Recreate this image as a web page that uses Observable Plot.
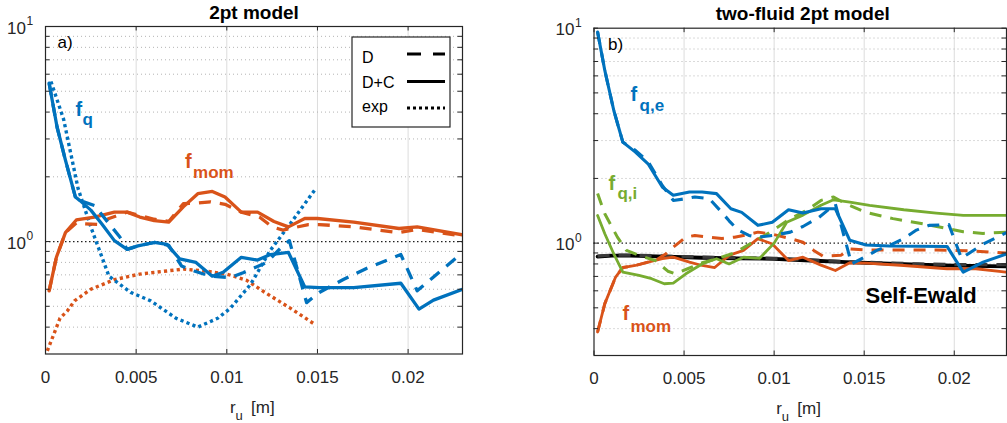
<!DOCTYPE html>
<html>
<head>
<meta charset="utf-8">
<script src="https://cdn.jsdelivr.net/npm/d3@7"></script>
<script src="https://cdn.jsdelivr.net/npm/@observablehq/plot@0.6"></script>
<style>
  html, body { margin: 0; padding: 0; background: #fff; }
  #fig { position: relative; width: 1007px; height: 423px; overflow: hidden;
         font-family: "Liberation Sans", Arial, Helvetica, sans-serif; }
  .panel { position: absolute; top: 0; }
  .panel svg { overflow: visible; }
</style>
</head>
<body>
<div id="fig"></div>
<script>
// MATLAB-style default colours
const BLUE = "#0072BD", ORANGE = "#D95319", GREEN = "#77AC30", BLACK = "#000000";
const FONT = "Liberation Sans, Arial, Helvetica, sans-serif";

// axis ticks
const xTicks = [0, 0.005, 0.01, 0.015, 0.02];
const yMajor = [1, 10];
const yMinor = [0.4, 0.5, 0.6, 0.7, 0.8, 0.9, 2, 3, 4, 5, 6, 7, 8, 9];

// ---- panel a) 2pt model ----
// f_q, D+C
const a_fq_DC_r = [0.0002, 0.00064, 0.0011, 0.00165, 0.0019, 0.0025, 0.0031, 0.0038, 0.0045, 0.0051, 0.006, 0.0067, 0.0074, 0.0083, 0.0092, 0.0098, 0.0108, 0.0117, 0.0124, 0.0134, 0.0143, 0.0151, 0.017, 0.0196, 0.0206, 0.0214, 0.023];
const a_fq_DC_v = [5.45, 3.4, 2.39, 1.61, 1.55, 1.40, 1.21, 1.01, 0.92, 0.955, 0.99, 0.97, 0.83, 0.80, 0.69, 0.72, 0.845, 0.82, 0.87, 0.89, 0.615, 0.61, 0.61, 0.64, 0.485, 0.534, 0.60];
// f_q, D
const a_fq_D_r = [0.0002, 0.00064, 0.0011, 0.00165, 0.0019, 0.0027, 0.0041, 0.0045, 0.0051, 0.006, 0.0068, 0.0075, 0.0082, 0.0091, 0.0102, 0.0109, 0.0122, 0.0131, 0.01345, 0.0144, 0.0151, 0.0164, 0.0177, 0.019, 0.0196, 0.0205, 0.023];
const a_fq_D_v = [5.45, 3.4, 2.39, 1.61, 1.55, 1.47, 1.05, 0.92, 0.955, 0.99, 0.96, 0.77, 0.73, 0.69, 0.68, 0.716, 0.80, 0.957, 1.01, 0.52, 0.58, 0.664, 0.75, 0.83, 0.87, 0.59, 0.89];
// f_q, exp
const a_fq_exp_r = [0.0003, 0.001, 0.0018, 0.0025, 0.0035, 0.0047, 0.0058, 0.0072, 0.0084, 0.0095, 0.0102, 0.0113, 0.0124, 0.0135, 0.0149];
const a_fq_exp_v = [5.55, 3.7, 1.76, 1.17, 0.69, 0.58, 0.53, 0.44, 0.40, 0.44, 0.49, 0.63, 0.91, 1.21, 1.76];
// f_mom, D+C
const a_fmom_DC_r = [0.0002, 0.0006, 0.0011, 0.0017, 0.0027, 0.0038, 0.0045, 0.0052, 0.006, 0.0068, 0.0076, 0.0084, 0.0092, 0.0099, 0.0108, 0.0117, 0.0126, 0.0134, 0.0143, 0.015, 0.017, 0.0195, 0.0205, 0.023];
const a_fmom_DC_v = [0.59, 0.845, 1.10, 1.26, 1.30, 1.37, 1.37, 1.30, 1.25, 1.23, 1.45, 1.67, 1.71, 1.61, 1.37, 1.37, 1.24, 1.17, 1.28, 1.28, 1.23, 1.15, 1.17, 1.075];
// f_mom, D
const a_fmom_D_r = [0.0002, 0.0006, 0.0011, 0.0017, 0.0021, 0.0029, 0.0035, 0.0045, 0.0052, 0.006, 0.0068, 0.0076, 0.0084, 0.0091, 0.0099, 0.0108, 0.0118, 0.0125, 0.0131, 0.0137, 0.0145, 0.0151, 0.017, 0.0195, 0.0205, 0.023];
const a_fmom_D_v = [0.59, 0.845, 1.10, 1.22, 1.21, 1.20, 1.28, 1.37, 1.32, 1.27, 1.24, 1.50, 1.51, 1.53, 1.49, 1.37, 1.30, 1.17, 1.13, 1.16, 1.20, 1.20, 1.17, 1.10, 1.14, 1.06];
// f_mom, exp
const a_fmom_exp_r = [0.0001, 0.0008, 0.0012, 0.0016, 0.0025, 0.0038, 0.0052, 0.0067, 0.0076, 0.0089, 0.01, 0.0111, 0.0121, 0.0135, 0.0148];
const a_fmom_exp_v = [0.31, 0.44, 0.475, 0.53, 0.60, 0.665, 0.706, 0.73, 0.745, 0.727, 0.706, 0.66, 0.58, 0.49, 0.415];

// ---- panel b) two-fluid 2pt model ----
// f_q,e, D+C
const b_fqe_DC_r = [0.0002, 0.0006, 0.0011, 0.0016, 0.0023, 0.003, 0.0038, 0.0044, 0.0053, 0.006, 0.0068, 0.0076, 0.0082, 0.0091, 0.0099, 0.0108, 0.0116, 0.0126, 0.0134, 0.0142, 0.0151, 0.0164, 0.0196, 0.0205, 0.0216, 0.0229];
const b_fqe_DC_v = [9.6, 6.36, 4.14, 2.95, 2.65, 2.34, 1.82, 1.67, 1.73, 1.73, 1.70, 1.445, 1.39, 1.21, 1.25, 1.43, 1.38, 1.445, 1.445, 1.03, 0.98, 0.97, 0.965, 0.733, 0.816, 0.89];
// f_q,e, D
const b_fqe_D_r = [0.0002, 0.0006, 0.0011, 0.0016, 0.0023, 0.003, 0.0038, 0.0044, 0.0051, 0.0056, 0.0064, 0.0071, 0.0075, 0.008, 0.0086, 0.0091, 0.0099, 0.0109, 0.0116, 0.0125, 0.0134, 0.0143, 0.015, 0.0157, 0.0164, 0.0172, 0.0179, 0.0186, 0.0197, 0.0204, 0.0216, 0.0229];
const b_fqe_D_v = [9.6, 6.36, 4.14, 2.95, 2.7, 2.4, 1.85, 1.58, 1.61, 1.64, 1.61, 1.39, 1.27, 1.15, 1.086, 1.066, 1.085, 1.125, 1.195, 1.32, 1.52, 0.80, 0.86, 0.925, 0.975, 1.05, 1.15, 1.21, 1.22, 0.85, 0.99, 1.12];
// f_q,i, D+C
const b_fqi_DC_r = [0.0002, 0.0006, 0.0011, 0.0016, 0.0025, 0.0032, 0.0039, 0.0044, 0.0051, 0.006, 0.0068, 0.0075, 0.0083, 0.0092, 0.01, 0.0107, 0.0116, 0.0126, 0.0133, 0.0142, 0.0153, 0.0172, 0.019, 0.0205, 0.0229];
const b_fqi_DC_v = [1.345, 1.105, 0.89, 0.733, 0.708, 0.683, 0.647, 0.652, 0.72, 0.80, 0.846, 0.80, 0.86, 0.85, 1.0, 1.25, 1.35, 1.50, 1.59, 1.55, 1.50, 1.43, 1.38, 1.345, 1.345];
// f_q,i, D
const b_fqi_D_r = [0.0002, 0.0006, 0.0013, 0.0018, 0.0025, 0.0034, 0.0041, 0.0045, 0.0052, 0.006, 0.0069, 0.0078, 0.009, 0.0099, 0.0109, 0.0118, 0.0126, 0.0133, 0.014, 0.0151, 0.0166, 0.0185, 0.0196, 0.0205, 0.0216, 0.0229];
const b_fqi_D_v = [1.70, 1.37, 1.066, 0.925, 0.877, 0.83, 0.74, 0.72, 0.76, 0.81, 0.85, 0.90, 1.03, 1.14, 1.30, 1.42, 1.58, 1.64, 1.52, 1.39, 1.30, 1.22, 1.17, 1.13, 1.11, 1.125];
// f_mom, D+C
const b_fmom_DC_r = [0.0002, 0.0006, 0.0012, 0.0016, 0.0023, 0.003, 0.0038, 0.0044, 0.0053, 0.006, 0.0067, 0.0075, 0.0083, 0.0091, 0.0099, 0.0108, 0.0116, 0.0126, 0.0134, 0.0142, 0.0151, 0.0172, 0.0196, 0.0212, 0.0229];
const b_fmom_DC_v = [0.386, 0.523, 0.695, 0.77, 0.787, 0.816, 0.846, 0.86, 0.816, 0.787, 0.77, 0.877, 0.925, 1.05, 0.99, 0.83, 0.86, 0.79, 0.746, 0.81, 0.807, 0.787, 0.76, 0.76, 0.733];
// f_mom, D
const b_fmom_D_r = [0.0002, 0.0006, 0.0012, 0.0016, 0.0023, 0.003, 0.0035, 0.004, 0.0044, 0.0051, 0.0056, 0.0064, 0.0071, 0.0078, 0.0084, 0.0091, 0.0099, 0.0109, 0.0116, 0.0122, 0.0127, 0.0137, 0.0142, 0.015, 0.017, 0.019, 0.021, 0.0229];
const b_fmom_D_v = [0.386, 0.523, 0.695, 0.77, 0.787, 0.816, 0.84, 0.893, 0.958, 1.066, 1.086, 1.066, 1.05, 1.066, 1.09, 1.125, 1.10, 1.05, 1.01, 0.925, 0.87, 0.877, 0.94, 0.93, 0.93, 0.93, 0.92, 0.90];
// Self-Ewald
const b_ewald_r = [0.0002, 0.001, 0.002, 0.004, 0.006, 0.008, 0.01, 0.012, 0.014, 0.016, 0.018, 0.02, 0.0229];
const b_ewald_DC_v = [0.865, 0.875, 0.875, 0.865, 0.855, 0.85, 0.845, 0.83, 0.815, 0.805, 0.795, 0.785, 0.78];
const b_ewald_D_v = [0.87, 0.88, 0.88, 0.87, 0.86, 0.855, 0.85, 0.835, 0.82, 0.81, 0.80, 0.795, 0.795];

// line styles for the three model variants
const DASH = { "D": "12,9", "D+C": null, "exp": "3.2,3.2" };

const pts = (r, v) => r.map((x, i) => ({ x, y: v[i] }));

const panelA = {
  left: 0, width: 540, marginLeft: 45, marginRight: 78, marginTop: 26, marginBottom: 69.5,
  xmax: 0.023, title: "2pt model", titleDx: 0, tag: "a)", tagDx: 12,
  series: [
    { d: pts(a_fmom_exp_r, a_fmom_exp_v), c: ORANGE, s: "exp", w: 3.4 },
    { d: pts(a_fq_exp_r, a_fq_exp_v), c: BLUE, s: "exp", w: 3.4 },
    { d: pts(a_fmom_D_r, a_fmom_D_v), c: ORANGE, s: "D", w: 3.3 },
    { d: pts(a_fmom_DC_r, a_fmom_DC_v), c: ORANGE, s: "D+C", w: 3.3 },
    { d: pts(a_fq_D_r, a_fq_D_v), c: BLUE, s: "D", w: 3.3 },
    { d: pts(a_fq_DC_r, a_fq_DC_v), c: BLUE, s: "D+C", w: 3.3 }
  ],
  labels: [
    { x: 0.00165, y: 3.83, main: "f", sub: "q", c: BLUE, dx: 7, dy: 9 },
    { x: 0.0077, y: 2.2, main: "f", sub: "mom", c: ORANGE, dx: 8, dy: 10 }
  ],
  notes: []
};

const panelB = {
  left: 540, width: 467, marginLeft: 53.5, marginRight: 1, marginTop: 27.7, marginBottom: 68,
  xmax: 0.0229, title: "two-fluid 2pt model", titleDx: 2.5, tag: "b)", tagDx: 14,
  series: [
    { d: pts(b_ewald_r, b_ewald_DC_v), c: BLACK, s: "D+C", w: 3.8 },
    { d: pts(b_ewald_r, b_ewald_D_v), c: "#3a3a3a", s: "D", w: 3.2 },
    { d: pts(b_fmom_D_r, b_fmom_D_v), c: ORANGE, s: "D", w: 3 },
    { d: pts(b_fmom_DC_r, b_fmom_DC_v), c: ORANGE, s: "D+C", w: 2.8 },
    { d: pts(b_fqi_D_r, b_fqi_D_v), c: GREEN, s: "D", w: 3 },
    { d: pts(b_fqi_DC_r, b_fqi_DC_v), c: GREEN, s: "D+C", w: 2.8 },
    { d: pts(b_fqe_D_r, b_fqe_D_v), c: BLUE, s: "D", w: 3.1 },
    { d: pts(b_fqe_DC_r, b_fqe_DC_v), c: BLUE, s: "D+C", w: 3.1 }
  ],
  labels: [
    { x: 0.00203, y: 4.6, main: "f", sub: "q,e", c: BLUE, dx: 9, dy: 10 },
    { x: 0.0008, y: 1.76, main: "f", sub: "q,i", c: GREEN, dx: 9, dy: 9 },
    { x: 0.00158, y: 0.437, main: "f", sub: "mom", c: ORANGE, dx: 8, dy: 12 }
  ],
  notes: [ { x: 0.01507, y: 0.524, text: "Self-Ewald" } ]
};

const AXIS = "#262626";
const H = 423;

function makePanel(p) {
  const innerH = H - p.marginTop - p.marginBottom;
  const innerW = p.width - p.marginLeft - p.marginRight;
  const tick = 4.5;
  const marks = [
    // grid
    Plot.ruleX(xTicks.filter(d => d > 0), { x: d => d, stroke: "#dcdcdc", strokeWidth: 1 }),
    Plot.ruleY(yMinor, { y: d => d, stroke: "#b4b4b4", strokeWidth: 1, strokeDasharray: "1,3" }),
    Plot.ruleY([1], { y: d => d, stroke: "#202020", strokeWidth: 1.2, strokeDasharray: "1.5,2.5" })
  ];
  // curves
  for (const s of p.series) {
    marks.push(Plot.line(s.d, {
      x: "x", y: "y", stroke: s.c, strokeWidth: s.w,
      strokeDasharray: DASH[s.s], strokeLinejoin: "round",
      strokeLinecap: s.s === "D+C" ? "round" : "butt", clip: true
    }));
  }
  // box and inward ticks
  marks.push(
    Plot.frame({ stroke: AXIS, strokeWidth: 1.2 }),
    Plot.tickX(xTicks, { x: d => d, insetTop: innerH - tick, stroke: AXIS }),
    Plot.tickX(xTicks, { x: d => d, insetBottom: innerH - tick, stroke: AXIS }),
    Plot.tickY(yMajor.concat(yMinor), { y: d => d, insetRight: innerW - tick, stroke: AXIS }),
    Plot.tickY(yMajor.concat(yMinor), { y: d => d, insetLeft: innerW - tick, stroke: AXIS })
  );
  // tick labels
  marks.push(
    Plot.text(xTicks, { x: d => d, text: d => String(d), frameAnchor: "bottom", lineAnchor: "bottom",
      dy: 28.5, fontSize: 17, fill: AXIS }),
    Plot.text(yMajor, { y: d => d, text: () => "10", frameAnchor: "left", textAnchor: "end",
      lineAnchor: "bottom", dx: -19.5, dy: 7, fontSize: 17, fill: AXIS }),
    Plot.text(yMajor, { y: d => d, text: d => String(Math.round(Math.log10(d))), frameAnchor: "left",
      textAnchor: "start", lineAnchor: "bottom", dx: -19, dy: -1.5, fontSize: 12, fill: AXIS })
  );
  // axis title r_u [m]
  marks.push(
    Plot.text(["r"], { text: d => d, frameAnchor: "bottom", textAnchor: "start", lineAnchor: "bottom",
      dx: -24, dy: 58.5, fontSize: 17, fill: AXIS }),
    Plot.text(["u"], { text: d => d, frameAnchor: "bottom", textAnchor: "start", lineAnchor: "bottom",
      dx: -18.5, dy: 65.5, fontSize: 13, fill: AXIS }),
    Plot.text(["[m]"], { text: d => d, frameAnchor: "bottom", textAnchor: "start", lineAnchor: "bottom",
      dx: -3, dy: 58.5, fontSize: 17, fill: AXIS })
  );
  // title and panel tag
  marks.push(
    Plot.text([p.title], { text: d => d, frameAnchor: "top", lineAnchor: "bottom", dx: p.titleDx, dy: -8,
      fontSize: 19, fontWeight: "bold", fill: "#000" }),
    Plot.text([p.tag], { text: d => d, frameAnchor: "top-left", textAnchor: "start", lineAnchor: "bottom",
      dx: p.tagDx, dy: 21.5, fontSize: 17, fill: "#000" })
  );
  // curve labels: main letter at the label position, subscript offset from it
  marks.push(
    Plot.text(p.labels, { x: "x", y: "y", text: "main", fill: "c", textAnchor: "start", lineAnchor: "bottom",
      fontSize: 20, fontWeight: "bold" })
  );
  for (const l of p.labels) {
    marks.push(Plot.text([l], { x: "x", y: "y", text: "sub", fill: "c", textAnchor: "start", lineAnchor: "bottom",
      fontSize: 17, fontWeight: "bold", dx: l.dx, dy: l.dy }));
  }
  if (p.notes.length) {
    marks.push(Plot.text(p.notes, { x: "x", y: "y", text: "text", textAnchor: "start", lineAnchor: "bottom",
      fontSize: 22, fontWeight: "bold", fill: "#000" }));
  }

  return Plot.plot({
    width: p.width, height: H,
    marginLeft: p.marginLeft, marginRight: p.marginRight,
    marginTop: p.marginTop, marginBottom: p.marginBottom,
    style: { fontFamily: FONT, background: "transparent", overflow: "visible" },
    x: { domain: [0, p.xmax], axis: null },
    y: { type: "log", domain: [0.3, 10], axis: null },
    color: { type: "identity" },
    marks
  });
}

const fig = document.getElementById("fig");
for (const p of [panelA, panelB]) {
  const div = document.createElement("div");
  div.className = "panel";
  div.style.left = p.left + "px";
  div.appendChild(makePanel(p));
  fig.appendChild(div);
}

// legend for panel a
const legendItems = [
  { label: "D", dash: "14,12" },
  { label: "D+C", dash: null },
  { label: "exp", dash: "3,3" }
];
const leg = d3.select(fig).append("svg")
  .attr("width", 1007).attr("height", 423)
  .style("position", "absolute").style("left", 0).style("top", 0)
  .style("font-family", FONT);
leg.append("rect").attr("x", 352).attr("y", 37).attr("width", 98).attr("height", 90)
  .attr("fill", "#fff").attr("stroke", AXIS).attr("stroke-width", 1.2);
const rowY = [54, 81.5, 108];
const rowBase = [63, 87.5, 112];
legendItems.forEach((it, i) => {
  leg.append("text").attr("x", 362).attr("y", rowBase[i]).attr("font-size", 16).attr("fill", "#000").text(it.label);
  leg.append("line").attr("x1", 407).attr("x2", 445).attr("y1", rowY[i]).attr("y2", rowY[i])
    .attr("stroke", "#000").attr("stroke-width", 3.2)
    .attr("stroke-dasharray", it.dash);
});
</script>
</body>
</html>
